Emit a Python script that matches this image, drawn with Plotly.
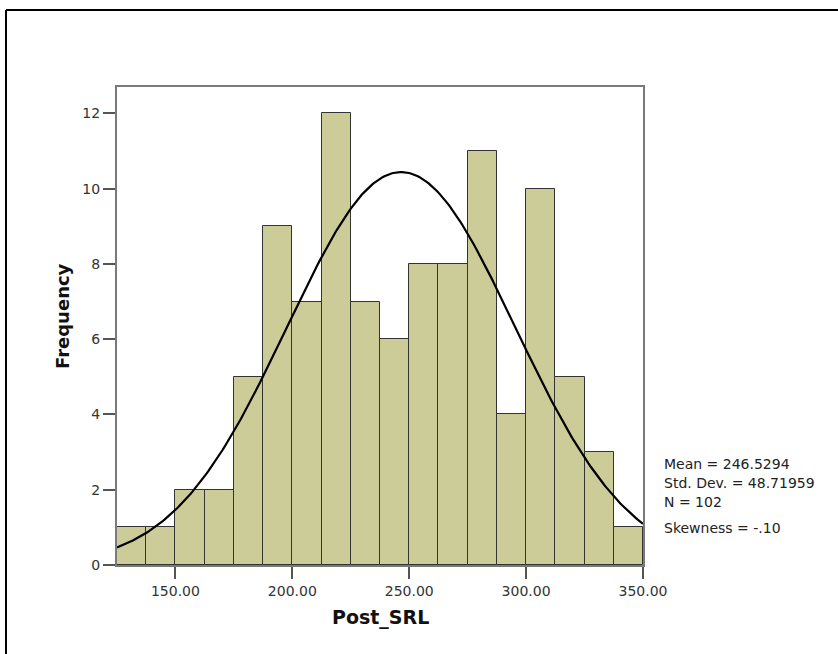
import numpy as np
import plotly.graph_objects as go

# ---- data ----
bin_starts = [125.0, 137.5, 150.0, 162.5, 175.0, 187.5, 200.0, 212.5, 225.0,
              237.5, 250.0, 262.5, 275.0, 287.5, 300.0, 312.5, 325.0, 337.5]
counts = [1, 1, 2, 2, 5, 9, 7, 12, 7, 6, 8, 8, 11, 4, 10, 5, 3, 1]
bin_width = 12.5
x_tick_vals = [150, 200, 250, 300, 350]
x_tick_text = ["150.00", "200.00", "250.00", "300.00", "350.00"]
y_tick_vals = [0, 2, 4, 6, 8, 10, 12]
MEAN = 246.5294
SD = 48.71959
N = 102
stats_lines = ["Mean = 246.5294", "Std. Dev. = 48.71959", "N = 102", "Skewness = -.10"]

# ---- figure geometry (pixels) ----
W, H = 838, 654
L, R, T, B = 117, 643, 87, 565
pw, ph = R - L, B - T

def px(x):
    return (x - L) / pw

def py(y):
    return (B - y) / ph

centers = [s + bin_width / 2 for s in bin_starts]

# normal curve from the stated statistics
xc = np.linspace(125, 350, 300)
yc = N * bin_width / (SD * np.sqrt(2 * np.pi)) * np.exp(-0.5 * ((xc - MEAN) / SD) ** 2)

fig = go.Figure()
fig.add_trace(go.Bar(
    x=centers, y=counts, width=bin_width,
    marker=dict(color="#cccc99", line=dict(color="#333333", width=1)),
    showlegend=False,
))
fig.add_trace(go.Scatter(
    x=xc, y=yc, mode="lines",
    line=dict(color="black", width=2.2),
    showlegend=False,
))

tickfont = dict(family="DejaVu Sans", size=14, color="#333333")
fig.update_layout(
    width=W, height=H, autosize=False,
    margin=dict(l=L, r=W - R, t=T, b=H - B, pad=0),
    paper_bgcolor="white", plot_bgcolor="white",
    bargap=0,
    xaxis=dict(range=[125, 350], tickvals=x_tick_vals, ticktext=x_tick_text,
               ticks="outside", ticklen=12, tickwidth=1.5, tickcolor="#555555",
               showline=True, linecolor="#7a7a7a", linewidth=2, mirror=True,
               showgrid=False, zeroline=False, tickfont=tickfont, automargin=False),
    yaxis=dict(range=[0, 12.7], tickvals=y_tick_vals,
               ticks="outside", ticklen=12, tickwidth=1.5, tickcolor="#555555",
               showline=True, linecolor="#7a7a7a", linewidth=2, mirror=True,
               showgrid=False, zeroline=False, tickfont=tickfont, automargin=False),
)

annotations = [
    dict(text="<b>Frequency</b>", x=px(62), y=py(316), xref="paper", yref="paper",
         textangle=-90, showarrow=False, xanchor="center", yanchor="middle",
         font=dict(family="DejaVu Sans", size=18, color="#111111")),
    dict(text="<b>Post_SRL</b>", x=0.5, y=py(617), xref="paper", yref="paper",
         showarrow=False, xanchor="center", yanchor="middle",
         font=dict(family="DejaVu Sans", size=19, color="#111111")),
]
row_y = [464, 483, 502, 528]
for t, yy in zip(stats_lines, row_y):
    annotations.append(dict(text=t, x=px(662), y=py(yy), xref="paper", yref="paper",
                            showarrow=False, xanchor="left", yanchor="middle",
                            font=dict(family="DejaVu Sans", size=14, color="#222222")))
fig.update_layout(annotations=annotations)

# outer frame (top and left edges)
fig.add_shape(type="line", xref="paper", yref="paper", x0=px(6), x1=px(840),
              y0=py(10), y1=py(10), line=dict(color="black", width=2))
fig.add_shape(type="line", xref="paper", yref="paper", x0=px(6), x1=px(6),
              y0=py(10), y1=py(656), line=dict(color="black", width=2))

fig.write_html("out.html", config={"displayModeBar": False},
               post_script="document.body.style.margin='0';document.body.style.overflow='hidden';")
